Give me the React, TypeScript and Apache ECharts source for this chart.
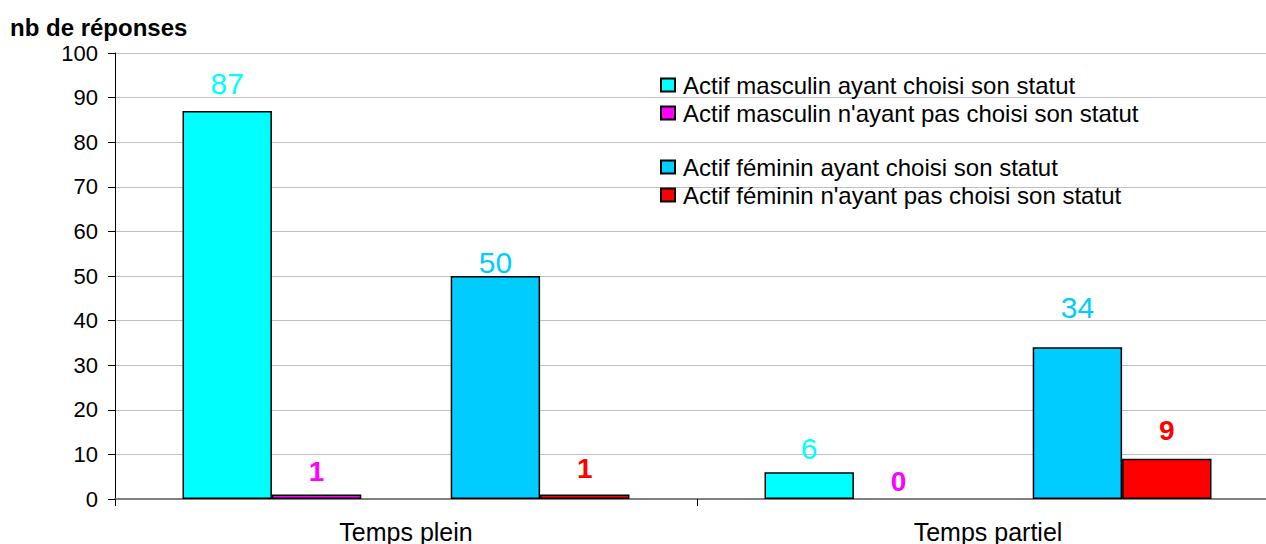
import React, { useEffect, useRef } from "react";
import * as echarts from "echarts";

const categories = ["Temps plein", "Temps partiel"];
const seriesNames = [
  "Actif masculin ayant choisi son statut",
  "Actif masculin n'ayant pas choisi son statut",
  "Actif féminin ayant choisi son statut",
  "Actif féminin n'ayant pas choisi son statut",
];
const masculinChoisi = [87, 6];
const masculinNonChoisi = [1, 0];
const femininChoisi = [50, 34];
const femininNonChoisi = [1, 9];
const yTicks = { min: 0, max: 100, interval: 10 };

const colors = ["#00ffff", "#ff00ff", "#00ccff", "#ff0000"];
const labelOffsets = [
  [-7, -4],
  [-4, 1],
  [6, -20],
  [-7, -9],
];

export default function App() {
  const ref = useRef<HTMLDivElement>(null);
  useEffect(() => {
    if (!ref.current) return;
    const chart = echarts.init(ref.current, null, { renderer: "svg" });
    const values = [masculinChoisi, masculinNonChoisi, femininChoisi, femininNonChoisi];
    const mk = (i: number) => ({
      name: seriesNames[i],
      type: "bar",
      barWidth: 89.4,
      barGap: "0%",
      itemStyle: { color: colors[i], borderColor: "#000", borderWidth: 1.5 },
      label: {
        show: true,
        position: "top",
        color: colors[i],
        fontFamily: "Liberation Sans",
        fontSize: i % 2 === 0 ? 30 : 28,
        fontWeight: i % 2 === 0 ? "normal" : "bold",
      },
      data: values[i].map((v, j) => ({
        value: v,
        label: { offset: [0, labelOffsets[i][j]] },
        itemStyle: v === 0 ? { borderWidth: 0 } : undefined,
      })),
    });
    const spacer = {
      name: "spacer",
      type: "bar",
      barWidth: 89.4,
      barGap: "0%",
      data: [null, null],
      silent: true,
    };
    const legendCommon = {
      orient: "vertical",
      left: 660,
      padding: 0,
      itemWidth: 14,
      itemHeight: 13,
      itemGap: 4,
      icon: "rect",
      textStyle: {
        fontFamily: "Liberation Sans",
        fontSize: 24,
        color: "#000",
        padding: [0, 0, 0, 3],
      },
    };
    chart.setOption({
      animation: false,
      textStyle: { fontFamily: "Liberation Sans" },
      title: {
        text: "nb de réponses",
        left: 10,
        top: 15,
        padding: 0,
        textStyle: { fontFamily: "Liberation Sans", fontSize: 24, fontWeight: "bold", color: "#000" },
      },
      legend: [
        { ...legendCommon, top: 73, data: [seriesNames[0], seriesNames[1]] },
        { ...legendCommon, top: 155, data: [seriesNames[2], seriesNames[3]] },
      ],
      grid: { left: 115, right: 11, top: 53, bottom: 45, containLabel: false },
      xAxis: {
        type: "category",
        data: categories,
        axisLine: { lineStyle: { color: "#808080", width: 2 } },
        axisTick: { show: true, alignWithLabel: false, length: 7, lineStyle: { color: "#000" } },
        axisLabel: { fontFamily: "Liberation Sans", fontSize: 25, color: "#000", margin: 20 },
      },
      yAxis: {
        type: "value",
        min: yTicks.min,
        max: yTicks.max,
        interval: yTicks.interval,
        axisLine: { show: true, lineStyle: { color: "#000", width: 1 } },
        axisTick: { show: true, length: 7, lineStyle: { color: "#000" } },
        axisLabel: { fontFamily: "Liberation Sans", fontSize: 22, color: "#000", margin: 17 },
        splitLine: { lineStyle: { color: "#c0c0c0", width: 1 } },
      },
      series: [mk(0), mk(1), spacer, mk(2), mk(3)],
    });
    return () => chart.dispose();
  }, []);
  return (
    <div style={{ position: "fixed", left: 0, top: 0, width: "100vw", height: "100vh", overflow: "hidden", background: "#fff" }}>
      <div ref={ref} style={{ width: 1290, height: 544 }} />
    </div>
  );
}
